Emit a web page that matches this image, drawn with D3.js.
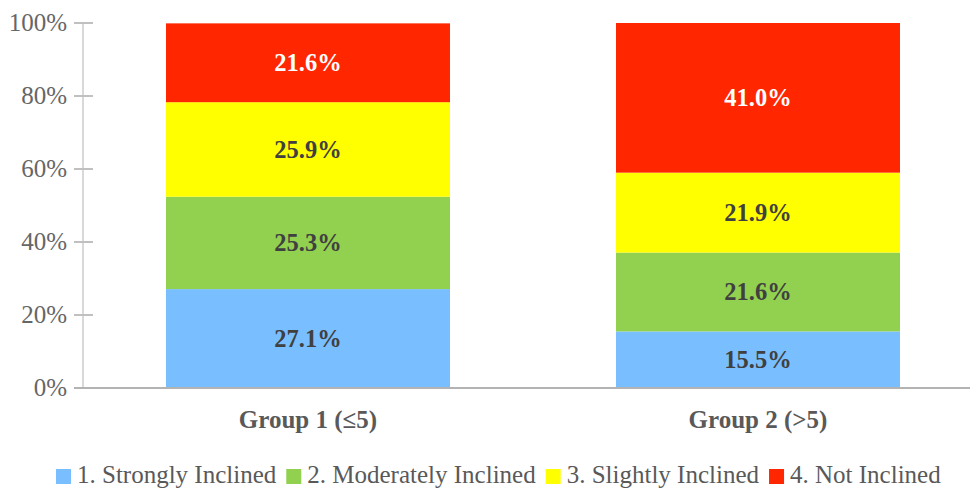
<!DOCTYPE html>
<html>
<head>
<meta charset="utf-8">
<script src="https://d3js.org/d3.v7.min.js"></script>
<style>
  body { margin: 0; background: #fff; }
  text { font-family: "Liberation Serif", "Times New Roman", serif; }
</style>
</head>
<body>
<div id="chart"></div>
<script>
// Data
var groups = ["Group 1 (≤5)", "Group 2 (>5)"];
var seriesNames = ["1. Strongly Inclined", "2. Moderately Inclined", "3. Slightly Inclined", "4. Not Inclined"];
var strongly = [27.1, 15.5];
var moderately = [25.3, 21.6];
var slightly = [25.9, 21.9];
var notInclined = [21.6, 41.0];
var yTicks = [0, 20, 40, 60, 80, 100];

var colors = ["#79bfff", "#92d050", "#ffff00", "#ff2600"];
var labelColors = ["#404040", "#404040", "#404040", "#ffffff"];

var svgWidth = 970;
var svgHeight = 489;

var svg = d3.select("#chart")
  .append("svg")
  .attr("width", svgWidth)
  .attr("height", svgHeight);

// Scales
var xScale = d3.scaleBand()
  .domain(groups)
  .range([83, 983])
  .padding(0);

var barWidth = 284;

var yScale = d3.scaleLinear()
  .domain([0, 100])
  .range([388, 23]);

// Build stacked table
var table = groups.map(function(g, i) {
  return {
    group: g,
    s0: strongly[i],
    s1: moderately[i],
    s2: slightly[i],
    s3: notInclined[i]
  };
});
var stack = d3.stack().keys(["s0", "s1", "s2", "s3"]);
var stacked = stack(table);

// Y axis line
svg.append("line")
  .attr("x1", 83).attr("x2", 83)
  .attr("y1", yScale(100)).attr("y2", yScale(0))
  .attr("stroke", "#d9d9d9")
  .attr("stroke-width", 2);

// Y ticks
var tickG = svg.append("g");
tickG.selectAll("line")
  .data(yTicks)
  .enter()
  .append("line")
  .attr("x1", 74).attr("x2", 93)
  .attr("y1", d => yScale(d)).attr("y2", d => yScale(d))
  .attr("stroke", "#c0c0c0")
  .attr("stroke-width", 2);

tickG.selectAll("text")
  .data(yTicks)
  .enter()
  .append("text")
  .attr("x", 67)
  .attr("y", d => yScale(d))
  .attr("dy", "0.33em")
  .attr("text-anchor", "end")
  .attr("font-size", "25px")
  .attr("fill", "#666")
  .text(d => d + "%");

// Bars
var layers = svg.selectAll("g.layer")
  .data(stacked)
  .enter()
  .append("g")
  .attr("class", "layer")
  .attr("fill", (d, i) => colors[i]);

layers.selectAll("rect")
  .data(d => d)
  .enter()
  .append("rect")
  .attr("x", d => xScale(d.data.group) + (xScale.bandwidth() - barWidth) / 2)
  .attr("width", barWidth)
  .attr("y", d => yScale(d[1]))
  .attr("height", d => yScale(d[0]) - yScale(d[1]));

// Value labels
stacked.forEach(function(layer, li) {
  svg.append("g").selectAll("text")
    .data(layer)
    .enter()
    .append("text")
    .attr("x", d => xScale(d.data.group) + xScale.bandwidth() / 2)
    .attr("y", d => yScale((d[0] + d[1]) / 2))
    .attr("dy", "0.33em")
    .attr("text-anchor", "middle")
    .attr("font-size", "24.5px")
    .attr("font-weight", "bold")
    .attr("fill", labelColors[li])
    .text(d => (d[1] - d[0]).toFixed(1) + "%");
});

// Baseline
svg.append("line")
  .attr("x1", 74).attr("x2", 970)
  .attr("y1", yScale(0)).attr("y2", yScale(0))
  .attr("stroke", "#b3b3b3")
  .attr("stroke-width", 2);

// Category labels
svg.append("g").selectAll("text")
  .data(groups)
  .enter()
  .append("text")
  .attr("x", d => xScale(d) + xScale.bandwidth() / 2)
  .attr("y", 428)
  .attr("text-anchor", "middle")
  .attr("font-size", "25px")
  .attr("font-weight", "bold")
  .attr("fill", "#595959")
  .text(d => d);

// Legend
var legend = svg.append("g").attr("transform", "translate(56, 0)");
var lx = 0;
seriesNames.forEach(function(name, i) {
  var item = legend.append("g").attr("transform", `translate(${lx}, 0)`);
  item.append("rect")
    .attr("x", 0).attr("y", 469)
    .attr("width", 15).attr("height", 15)
    .attr("fill", colors[i]);
  var t = item.append("text")
    .attr("x", 21)
    .attr("y", 483)
    .attr("font-size", "25px")
    .attr("fill", "#595959")
    .text(name);
  lx += 21 + t.node().getComputedTextLength() + 10;
});
</script>
</body>
</html>
